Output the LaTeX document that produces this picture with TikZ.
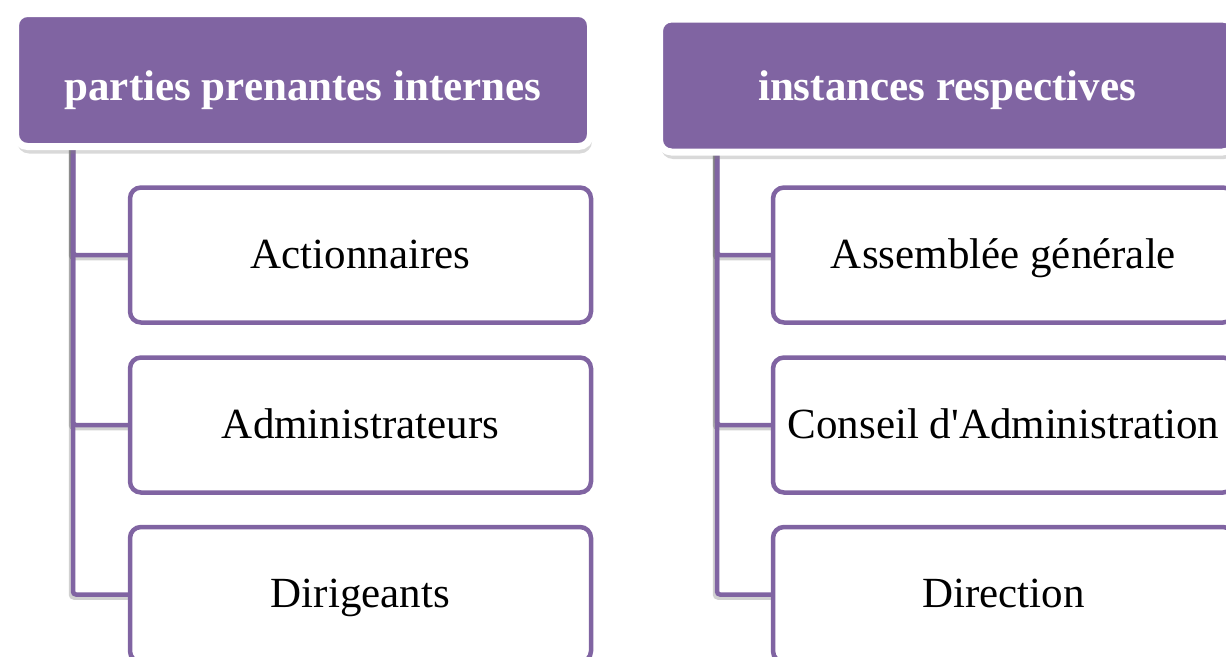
\documentclass[tikz,border=0pt]{standalone}
\usepackage{fontspec}
\setmainfont{Liberation Serif}
\usetikzlibrary{shadows}

\begin{document}
\begin{tikzpicture}[x=1pt,y=-1pt,
    headbox/.style={fill=orgpurple,draw=white,line width=7pt,rounded corners=12pt,
      minimum width=575pt,minimum height=133pt,text=white,text depth=0pt,
      font=\fontsize{43}{50}\selectfont\bfseries,
      drop shadow={opacity=0.3,shadow xshift=1.5pt,shadow yshift=-7pt}},
    itembox/.style={fill=white,draw=orgpurple,line width=4.5pt,rounded corners=11pt,
      minimum width=461pt,minimum height=135pt,text height=28pt,text depth=2pt,
      font=\fontsize{43}{50}\selectfont},
    branch/.style={draw=orgpurple,line width=4.5pt,rounded corners=3pt,
      preaction={draw=black,opacity=0.18,line width=4.5pt,
        transform canvas={shift={(-2pt,-3pt)}}}}]
  \definecolor{orgpurple}{RGB}{128,100,162}
  \useasboundingbox (0,0) rectangle (1226,656);

  % left column
  \coordinate (trunkL) at (73,146);
  \draw[branch] (trunkL) |- (130,255);
  \draw[branch] (trunkL) |- (130,425);
  \draw[branch] (trunkL) |- (130,594.5);
  \node[headbox,text height=40pt] (hdrL) at (303,80) {parties prenantes internes};
  \node[itembox] (actio) at (360.5,255) {Actionnaires};
  \node[itembox] (admin) at (360.5,425) {Administrateurs};
  \node[itembox] (dirig) at (360.5,594.5) {Dirigeants};

  % right column
  \coordinate (trunkR) at (717,152);
  \draw[branch] (trunkR) |- (773,255);
  \draw[branch] (trunkR) |- (773,425);
  \draw[branch] (trunkR) |- (773,594.5);
  \node[headbox,text height=30pt] (hdrR) at (947,85.5) {instances respectives};
  \node[itembox] (assem) at (1003.5,255) {Assemblée générale};
  \node[itembox] (conseil) at (1003.5,425) {Conseil d\textquotesingle Administration};
  \node[itembox] (direc) at (1003.5,594.5) {Direction};
\end{tikzpicture}
\end{document}
